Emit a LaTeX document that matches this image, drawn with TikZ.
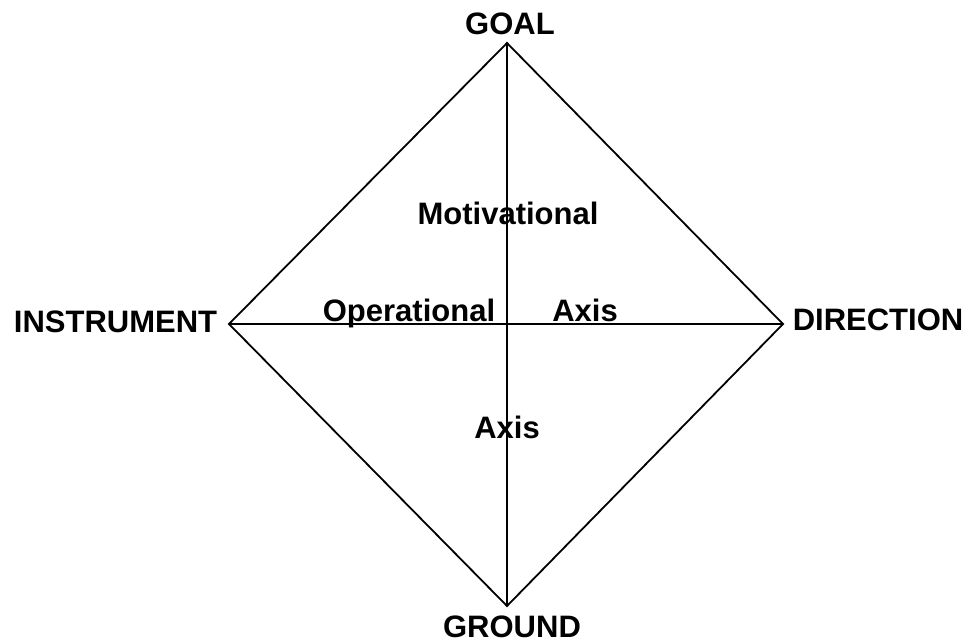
\documentclass[tikz,border=0pt]{standalone}
\usepackage{fontspec}
\setmainfont{Liberation Sans}
\begin{document}
\begin{tikzpicture}[x=1pt,y=-1pt,
  edge/.style={draw=black,line width=1.8pt,line join=miter},
  lbl/.style={font=\fontsize{31}{36}\selectfont\bfseries,inner sep=0pt,anchor=base}]
\useasboundingbox (0,0) rectangle (969,643);
\coordinate (top) at (507,43);
\coordinate (bot) at (507,606);
\coordinate (lft) at (229,324);
\coordinate (rgt) at (783,324);
\draw[edge] (top) -- (rgt) -- (bot) -- (lft) -- cycle;
\draw[edge] (top) -- (bot);
\draw[edge] (lft) -- (rgt);
\node[lbl] (goal) at (510,34) {GOAL};
\node[lbl] (ground) at (512,637) {GROUND};
\node[lbl] (instr) at (115.5,332.7) {INSTRUMENT};
\node[lbl] (dir) at (878,330) {DIRECTION};
\node[lbl] (mot) at (508,224) {Motivational};
\node[lbl] (oper) at (409,321) {Operational};
\node[lbl] (axr) at (585,321) {Axis};
\node[lbl] (axb) at (507,438) {Axis};
\end{tikzpicture}
\end{document}
